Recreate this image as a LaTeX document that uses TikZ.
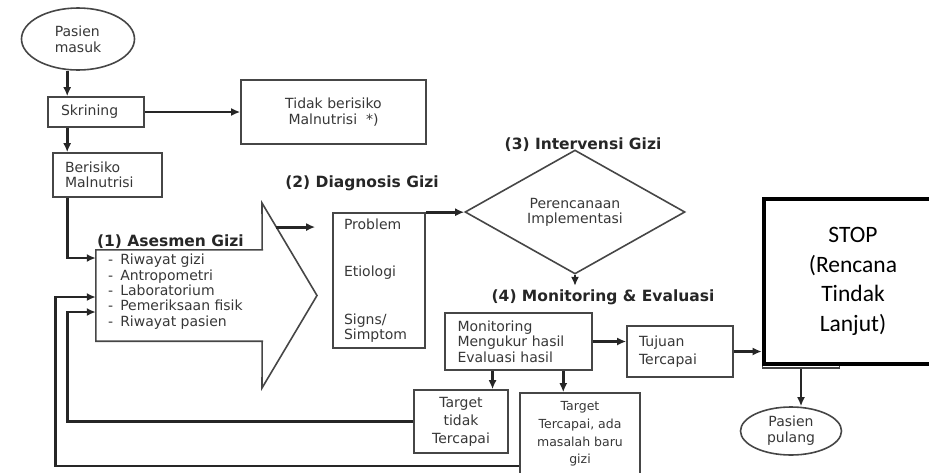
\documentclass[tikz,border=0pt]{standalone}
\usepackage{fontspec}
\setmainfont{DejaVu Sans}
\newfontfamily\stopfont{Carlito}
\usepackage{tikz}
\usetikzlibrary{shapes.geometric,arrows.meta,positioning,calc}
\definecolor{boxgray}{RGB}{70,70,70}
\definecolor{textgray}{RGB}{55,55,55}
\tikzset{
  box/.style={rectangle, draw=boxgray, line width=1.6pt, inner sep=0pt, text=textgray, font=\fontsize{14}{15.3}\selectfont},
  leftbox/.style={box, align=left},
  midbox/.style={box, align=center},
  oval/.style={ellipse, draw=boxgray, line width=1.6pt, inner sep=0pt, align=left, text=textgray, font=\fontsize{14}{16}\selectfont},
  judul/.style={font=\bfseries\fontsize{15.5}{18}\selectfont, text=black!85},
  arrow/.style={-{Latex[length=9pt,width=8pt]}, line width=2.9pt, draw=black!85},
}

\begin{document}
\begin{tikzpicture}[x=1pt, y=-1pt]
  \useasboundingbox (0,0) rectangle (929,472);

  % Skrining
  \node[oval, minimum width=113, minimum height=62] (pasienmasuk) at (78,39) {Pasien\\masuk};
  \node[leftbox, text width=70, inner xsep=13, minimum height=30] (skrining) at (96,112) {Skrining};
  \node[midbox, minimum width=185, minimum height=64] (tidak) at (333.5,112) {Tidak berisiko\\Malnutrisi~~*)};
  \node[leftbox, text width=85, inner xsep=12, minimum height=44] (berisiko) at (107.5,175) {Berisiko\\Malnutrisi};
  \coordinate (spalte) at ($(skrining.south west)+(20,0)$);

  \draw[arrow] (spalte |- pasienmasuk.south) -- (spalte |- skrining.north);
  \draw[arrow] (skrining.east) -- (tidak.west);
  \draw[arrow] (spalte) -- (spalte |- berisiko.north);

  % (1) Asesmen Gizi
  \node[minimum width=166, minimum height=91, inner sep=0pt] (asesmen) at (179,295.5) {};
  \coordinate (headtop) at (262,203);
  \coordinate (headtip) at (317,295.5);
  \coordinate (headbot) at (262,388);
  \draw[draw=boxgray, line width=1.6pt] (asesmen.north east) -- (asesmen.north west) -- (asesmen.south west)
    -- (asesmen.south east) -- (headbot) -- (headtip) -- (headtop) -- cycle;
  \node[judul, anchor=south west, inner sep=1pt] (judulasesmen) at (asesmen.north west) {(1) Asesmen Gizi};
  \node[anchor=north west, align=left, inner sep=0pt, text=textgray, font=\fontsize{14}{15.3}\selectfont] (asesmenlist) at (108,254) {%
    -\hspace{7pt}Riwayat gizi\\
    -\hspace{7pt}Antropometri\\
    -\hspace{7pt}Laboratorium\\
    -\hspace{7pt}Pemeriksaan fisik\\
    -\hspace{7pt}Riwayat pasien};

  \draw[arrow] ($(berisiko.south west)+(15,0)$) |- ($(asesmen.west)+(0,-37.5)$);

  % (2) Diagnosis Gizi
  \node[leftbox, text width=70, inner xsep=11, minimum height=135] (diagnosis) at (379,280.5) {Problem\\[32pt]Etiologi\\[32pt]Signs/\\Simptom};
  \node[judul] (juduldiagnosis) at (362,183) {(2) Diagnosis Gizi};
  \coordinate (headout) at ($(headtop)!0.26!(headtip)$);
  \draw[arrow, shorten >=17pt] (headout) -- (headout -| diagnosis.west);

  % (3) Intervensi Gizi
  \node[diamond, draw=boxgray, line width=1.6pt, minimum width=220, minimum height=93, inner sep=0pt, align=center, text=textgray, font=\fontsize{14}{15.3}\selectfont] (perencanaan) at (575,212) {Perencanaan\\Implementasi};
  \node[judul] (judulintervensi) at (583,145) {(3) Intervensi Gizi};
  \draw[arrow] (diagnosis.north east) -- (diagnosis.north east -| perencanaan.west);

  % (4) Monitoring & Evaluasi
  \node[judul] (judulmonev) at (603,297) {(4) Monitoring \& Evaluasi};
  \draw[arrow] (perencanaan.south) -- (perencanaan.south |- judulmonev.north);
  \node[leftbox, line width=2.2pt, text width=122, inner xsep=12.5, minimum height=57] (monitoring) at (518.5,341.5) {Monitoring\\Mengukur hasil\\Evaluasi hasil};
  \node[leftbox, text width=82, inner xsep=12, minimum height=51, font=\fontsize{14}{18}\selectfont] (tujuan) at (680,351.5) {Tujuan\\Tercapai};
  \draw[arrow] (monitoring.east) -- (monitoring.east -| tujuan.west);

  \node[midbox, minimum width=94, minimum height=63, font=\fontsize{14}{18}\selectfont] (targettidak) at (461,421.5) {Target\\tidak\\Tercapai};
  \node[midbox, minimum width=120, minimum height=82, font=\fontsize{12.5}{17.7}\selectfont] (targetbaru) at (580,434) {Target\\Tercapai, ada\\masalah baru\\gizi};
  \coordinate (monA) at ($(monitoring.south west)!0.326!(monitoring.south east)$);
  \coordinate (monB) at ($(monitoring.south west)!0.8!(monitoring.south east)$);
  \draw[arrow] (monA) -- (monA |- targettidak.north);
  \draw[arrow] (monB) -- (monB |- targetbaru.north);

  % Umpan balik ke asesmen
  \draw[arrow] (targettidak.west) -| ($(asesmen.west)+(-28,16.5)$) -- ($(asesmen.west)+(0,16.5)$);
  \draw[arrow] ($(targetbaru.west)+(0,32)$) -| ($(asesmen.west)+(-40,1.5)$) -- ($(asesmen.west)+(0,1.5)$);

  % STOP
  \node[box, minimum width=77, minimum height=48] (lamabox) at (801,344) {};
  \draw[arrow] (tujuan.east) -- (tujuan.east -| lamabox.west);
  \node[draw=black, line width=4pt, fill=white, minimum width=178, minimum height=165, inner sep=0pt, align=center, font=\stopfont\fontsize{23.5}{29.5}\selectfont] (stop) at (853,281.5) {STOP\\(Rencana\\Tindak\\Lanjut)};
  \node[oval, align=center, minimum width=101, minimum height=48] (pasienpulang) at (791,431) {Pasien\\pulang};
  \draw[arrow] (lamabox.south) -- (lamabox.south |- pasienpulang.north);
\end{tikzpicture}
\end{document}
